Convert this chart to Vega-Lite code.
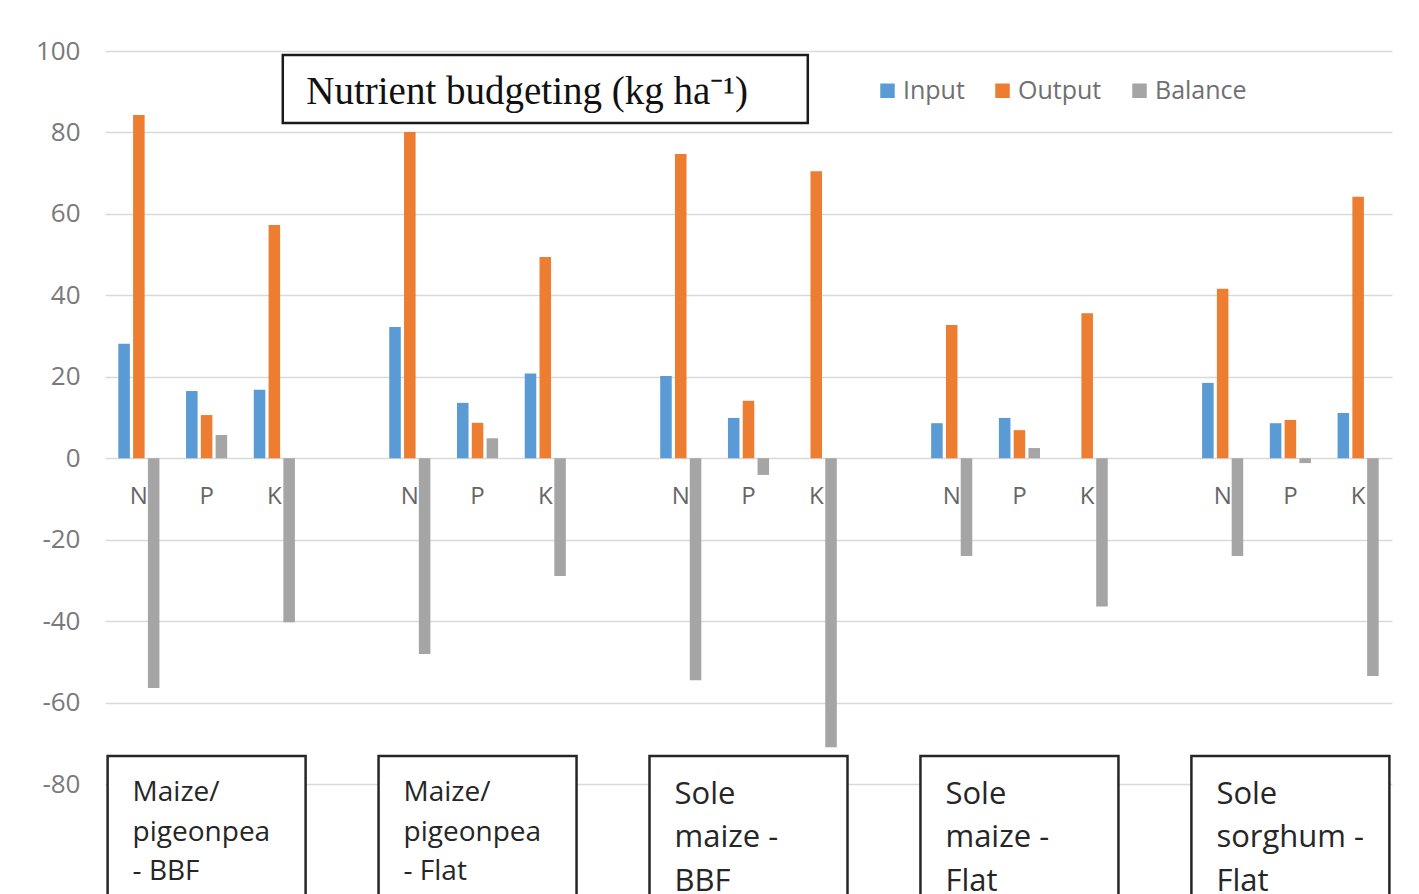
{
  "$schema": "https://vega.github.io/schema/vega-lite/v6.json",
  "width": 1287,
  "height": 733,
  "autosize": {"type": "none"},
  "padding": {"left": 105, "top": 51, "right": 27, "bottom": 110},
  "background": "white",
  "config": {
    "view": {"stroke": null},
    "font": "Open Sans",
    "axisX": {"disable": true},
    "axisY": {"grid": true, "gridColor": "#d9d9d9", "gridWidth": 1.5, "domain": false, "ticks": false, "labelFontSize": 26, "labelColor": "#7a7a7a", "labelPadding": 25, "labelFont": "Open Sans", "tickCount": 9, "title": null, "labelExpr": "replace(datum.label, '\u2212', '-')"}
  },
  "datasets": {
    "budget": [
      {"cat": "1N", "nutrient": "N", "measure": "Input", "value": 28.1},
      {"cat": "1N", "nutrient": "N", "measure": "Output", "value": 84.3},
      {"cat": "1N", "nutrient": "N", "measure": "Balance", "value": -56.4},
      {"cat": "1P", "nutrient": "P", "measure": "Input", "value": 16.5},
      {"cat": "1P", "nutrient": "P", "measure": "Output", "value": 10.6},
      {"cat": "1P", "nutrient": "P", "measure": "Balance", "value": 5.7},
      {"cat": "1K", "nutrient": "K", "measure": "Input", "value": 16.8},
      {"cat": "1K", "nutrient": "K", "measure": "Output", "value": 57.3},
      {"cat": "1K", "nutrient": "K", "measure": "Balance", "value": -40.3},
      {"cat": "2N", "nutrient": "N", "measure": "Input", "value": 32.2},
      {"cat": "2N", "nutrient": "N", "measure": "Output", "value": 80.1},
      {"cat": "2N", "nutrient": "N", "measure": "Balance", "value": -48.1},
      {"cat": "2P", "nutrient": "P", "measure": "Input", "value": 13.6},
      {"cat": "2P", "nutrient": "P", "measure": "Output", "value": 8.7},
      {"cat": "2P", "nutrient": "P", "measure": "Balance", "value": 4.9},
      {"cat": "2K", "nutrient": "K", "measure": "Input", "value": 20.8},
      {"cat": "2K", "nutrient": "K", "measure": "Output", "value": 49.4},
      {"cat": "2K", "nutrient": "K", "measure": "Balance", "value": -28.9},
      {"cat": "3N", "nutrient": "N", "measure": "Input", "value": 20.2},
      {"cat": "3N", "nutrient": "N", "measure": "Output", "value": 74.7},
      {"cat": "3N", "nutrient": "N", "measure": "Balance", "value": -54.5},
      {"cat": "3P", "nutrient": "P", "measure": "Input", "value": 9.9},
      {"cat": "3P", "nutrient": "P", "measure": "Output", "value": 14.1},
      {"cat": "3P", "nutrient": "P", "measure": "Balance", "value": -4.1},
      {"cat": "3K", "nutrient": "K", "measure": "Input", "value": 0},
      {"cat": "3K", "nutrient": "K", "measure": "Output", "value": 70.5},
      {"cat": "3K", "nutrient": "K", "measure": "Balance", "value": -71.0},
      {"cat": "4N", "nutrient": "N", "measure": "Input", "value": 8.6},
      {"cat": "4N", "nutrient": "N", "measure": "Output", "value": 32.7},
      {"cat": "4N", "nutrient": "N", "measure": "Balance", "value": -24.0},
      {"cat": "4P", "nutrient": "P", "measure": "Input", "value": 9.9},
      {"cat": "4P", "nutrient": "P", "measure": "Output", "value": 6.9},
      {"cat": "4P", "nutrient": "P", "measure": "Balance", "value": 2.5},
      {"cat": "4K", "nutrient": "K", "measure": "Input", "value": 0},
      {"cat": "4K", "nutrient": "K", "measure": "Output", "value": 35.6},
      {"cat": "4K", "nutrient": "K", "measure": "Balance", "value": -36.4},
      {"cat": "5N", "nutrient": "N", "measure": "Input", "value": 18.5},
      {"cat": "5N", "nutrient": "N", "measure": "Output", "value": 41.6},
      {"cat": "5N", "nutrient": "N", "measure": "Balance", "value": -24.0},
      {"cat": "5P", "nutrient": "P", "measure": "Input", "value": 8.6},
      {"cat": "5P", "nutrient": "P", "measure": "Output", "value": 9.4},
      {"cat": "5P", "nutrient": "P", "measure": "Balance", "value": -1.2},
      {"cat": "5K", "nutrient": "K", "measure": "Input", "value": 11.1},
      {"cat": "5K", "nutrient": "K", "measure": "Output", "value": 64.2},
      {"cat": "5K", "nutrient": "K", "measure": "Balance", "value": -53.5}
    ],
    "groups": [
      {"cat": "1P", "label": "Maize/\npigeonpea\n- BBF", "style": "small"},
      {"cat": "2P", "label": "Maize/\npigeonpea\n- Flat", "style": "small"},
      {"cat": "3P", "label": "Sole\nmaize -\nBBF", "style": "large"},
      {"cat": "4P", "label": "Sole\nmaize -\nFlat", "style": "large"},
      {"cat": "5P", "label": "Sole\nsorghum -\nFlat", "style": "large"}
    ],
    "heading": [
      {"cat": "2K", "label": "Nutrient budgeting (kg ha⁻¹)"}
    ]
  },
  "layer": [
    {
      "data": {"name": "budget"},
      "transform": [{"filter": "datum.measure === 'Input'"}],
      "mark": {"type": "text", "fontSize": 24, "color": "#666666", "baseline": "middle", "dy": 39, "font": "Open Sans"},
      "encoding": {
        "x": {"field": "cat", "type": "nominal", "scale": {"domain": ["1N","1P","1K","g1","2N","2P","2K","g2","3N","3P","3K","g3","4N","4P","4K","g4","5N","5P","5K"], "paddingInner": 0.393, "paddingOuter": 0.1965}},
        "y": {"datum": 0, "type": "quantitative", "scale": {"domain": [-80, 100], "nice": false}},
        "text": {"field": "nutrient"}
      }
    },
    {
      "data": {"name": "budget"},
      "mark": {"type": "bar"},
      "encoding": {
        "x": {"field": "cat", "type": "nominal", "scale": {"domain": ["1N","1P","1K","g1","2N","2P","2K","g2","3N","3P","3K","g3","4N","4P","4K","g4","5N","5P","5K"], "paddingInner": 0.393, "paddingOuter": 0.1965}},
        "xOffset": {"field": "measure", "type": "nominal", "scale": {"domain": ["Input", "Output", "Balance"], "paddingInner": 0.22, "paddingOuter": 0}},
        "y": {"field": "value", "type": "quantitative", "title": null, "scale": {"domain": [-80, 100], "nice": false}},
        "color": {
          "field": "measure", "type": "nominal",
          "scale": {"domain": ["Input", "Output", "Balance"], "range": ["#5B9BD5", "#ED7D31", "#A5A5A5"]},
          "legend": {"orient": "none", "legendX": 770, "legendY": 27, "direction": "horizontal", "title": null, "symbolType": "square", "symbolSize": 210, "symbolStrokeWidth": 0, "labelFontSize": 25, "labelColor": "#707070", "labelFont": "Open Sans", "labelOffset": 3, "columnPadding": 25}
        }
      }
    },
    {
      "data": {"name": "heading"},
      "mark": {"type": "bar", "width": 525, "fill": "white", "stroke": "#1a1a1a", "strokeWidth": 2.5},
      "encoding": {
        "x": {"field": "cat", "type": "nominal", "scale": {"domain": ["1N","1P","1K","g1","2N","2P","2K","g2","3N","3P","3K","g3","4N","4P","4K","g4","5N","5P","5K"], "paddingInner": 0.393, "paddingOuter": 0.1965}},
        "y": {"datum": 99.0, "type": "quantitative"},
        "y2": {"datum": 82.3}
      }
    },
    {
      "data": {"name": "heading"},
      "mark": {"type": "text", "font": "Liberation Serif", "fontSize": 39, "color": "#111111", "align": "left", "baseline": "alphabetic", "dx": -239},
      "encoding": {
        "x": {"field": "cat", "type": "nominal", "scale": {"domain": ["1N","1P","1K","g1","2N","2P","2K","g2","3N","3P","3K","g3","4N","4P","4K","g4","5N","5P","5K"], "paddingInner": 0.393, "paddingOuter": 0.1965}},
        "y": {"datum": 87.0, "type": "quantitative"},
        "text": {"field": "label"}
      }
    },
    {
      "data": {"name": "groups"},
      "mark": {"type": "bar", "width": 198, "fill": "white", "stroke": "#262626", "strokeWidth": 2.5},
      "encoding": {
        "x": {"field": "cat", "type": "nominal", "scale": {"domain": ["1N","1P","1K","g1","2N","2P","2K","g2","3N","3P","3K","g3","4N","4P","4K","g4","5N","5P","5K"], "paddingInner": 0.393, "paddingOuter": 0.1965}},
        "y": {"datum": -73.1, "type": "quantitative"},
        "y2": {"datum": -110}
      }
    },
    {
      "data": {"name": "groups"},
      "transform": [{"filter": "datum.style === 'small'"}],
      "mark": {"type": "text", "font": "Open Sans", "fontSize": 28, "lineHeight": 39.5, "lineBreak": "\n", "color": "#262626", "align": "left", "baseline": "alphabetic", "dx": -74},
      "encoding": {
        "x": {"field": "cat", "type": "nominal", "scale": {"domain": ["1N","1P","1K","g1","2N","2P","2K","g2","3N","3P","3K","g3","4N","4P","4K","g4","5N","5P","5K"], "paddingInner": 0.393, "paddingOuter": 0.1965}},
        "y": {"datum": -84.2, "type": "quantitative"},
        "text": {"field": "label"}
      }
    },
    {
      "data": {"name": "groups"},
      "transform": [{"filter": "datum.style === 'large'"}],
      "mark": {"type": "text", "font": "Open Sans", "fontSize": 31, "lineHeight": 43.5, "lineBreak": "\n", "color": "#262626", "align": "left", "baseline": "alphabetic", "dx": -74},
      "encoding": {
        "x": {"field": "cat", "type": "nominal", "scale": {"domain": ["1N","1P","1K","g1","2N","2P","2K","g2","3N","3P","3K","g3","4N","4P","4K","g4","5N","5P","5K"], "paddingInner": 0.393, "paddingOuter": 0.1965}},
        "y": {"datum": -84.8, "type": "quantitative"},
        "text": {"field": "label"}
      }
    }
  ]
}
